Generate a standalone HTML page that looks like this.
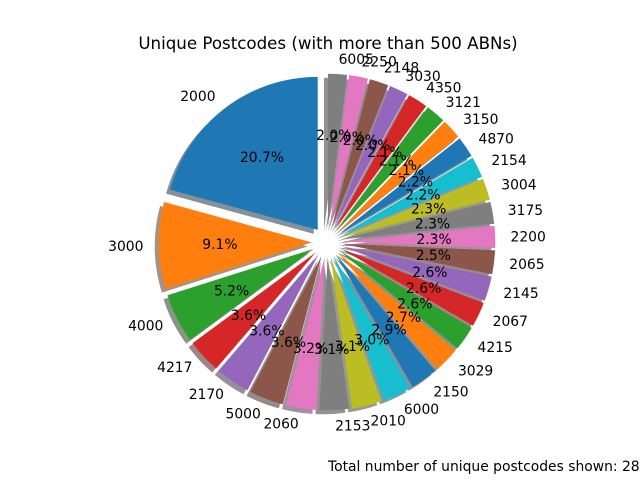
<!DOCTYPE html>
<html><head><meta charset="utf-8"><style>
html,body{margin:0;padding:0;background:#fff;}
svg{display:block;font-family:"DejaVu Sans","Liberation Sans",sans-serif;}
</style></head><body>
<svg id="chart" width="640" height="480" viewBox="0 0 640 480">
<text x="328" y="49" text-anchor="middle" font-size="16.67" fill="#000">Unique Postcodes (with more than 500 ABNs)</text>
<g id="shadows"></g>
<g id="wedges"></g>
<g id="labels"></g>
<text x="328" y="471" font-size="13.89" fill="#000">Total number of unique postcodes shown: 28</text>
</svg>
<script>
const categories = ["2000","3000","4000","4217","2170","5000","2060","2153","2010","6000","2150","3029","4215","2067","2145","2065","2200","3175","3004","2154","4870","3150","3121","4350","3030","2148","2250","6005"];
const values = [20.7,9.1,5.2,3.6,3.6,3.6,3.2,3.1,3.1,3.0,2.9,2.7,2.6,2.6,2.6,2.5,2.3,2.3,2.3,2.2,2.2,2.1,2.1,2.1,2.0,2.0,2.0,2.0];
const palette = ["#1f77b4","#ff7f0e","#2ca02c","#d62728","#9467bd","#8c564b","#e377c2","#7f7f7f","#bcbd22","#17becf"];
const NS="http://www.w3.org/2000/svg";
const cx=327, cy=242, R=153, explode=0.1;
const total = values.reduce((a,b)=>a+b,0);
const sh=document.getElementById('shadows'), wg=document.getElementById('wedges'), lb=document.getElementById('labels');
function darken(hex){const n=parseInt(hex.slice(1),16);const r=Math.round(((n>>16)&255)*0.3),g=Math.round(((n>>8)&255)*0.3),b=Math.round((n&255)*0.3);return `rgb(${r},${g},${b})`;}
function wedgePath(ox,oy,a0,a1){
  const p=(a)=>[ox+R*Math.cos(a), oy-R*Math.sin(a)];
  const s=p(a0), e=p(a1); const large=(a1-a0)>Math.PI?1:0;
  return `M${ox},${oy} L${s[0]},${s[1]} A${R},${R} 0 ${large} 0 ${e[0]},${e[1]} Z`;
}
let ang=90;
values.forEach((v,i)=>{
  const span=v/total*360;
  const a0=ang*Math.PI/180, a1=(ang+span)*Math.PI/180, am=(a0+a1)/2;
  ang+=span;
  const ox=cx+explode*R*Math.cos(am), oy=cy-explode*R*Math.sin(am);
  const col=palette[i%10];
  const s=document.createElementNS(NS,'path');
  s.setAttribute('d',wedgePath(ox-4,oy+4,a0,a1));
  s.setAttribute('fill',darken(col)); s.setAttribute('fill-opacity','0.5');
  
  
  sh.appendChild(s);
  const w=document.createElementNS(NS,'path');
  w.setAttribute('d',wedgePath(ox,oy,a0,a1));
  w.setAttribute('fill',col);
  
  
  wg.appendChild(w);
  const lx=ox+1.1*R*Math.cos(am), ly=oy-1.1*R*Math.sin(am);
  const t=document.createElementNS(NS,'text');
  t.setAttribute('x',lx); t.setAttribute('y',ly+5);
  t.setAttribute('font-size','13.89');
  t.setAttribute('text-anchor', Math.cos(am)>0?'start':'end');
  t.textContent=categories[i];
  
  
  lb.appendChild(t);
  const px=ox+0.6*R*Math.cos(am), py=oy-0.6*R*Math.sin(am);
  const q=document.createElementNS(NS,'text');
  q.setAttribute('x',px); q.setAttribute('y',py+5);
  q.setAttribute('font-size','13.89');
  q.setAttribute('text-anchor','middle');
  q.textContent=v.toFixed(1)+'%';
  
  
  lb.appendChild(q);
});
</script>
</body></html>
